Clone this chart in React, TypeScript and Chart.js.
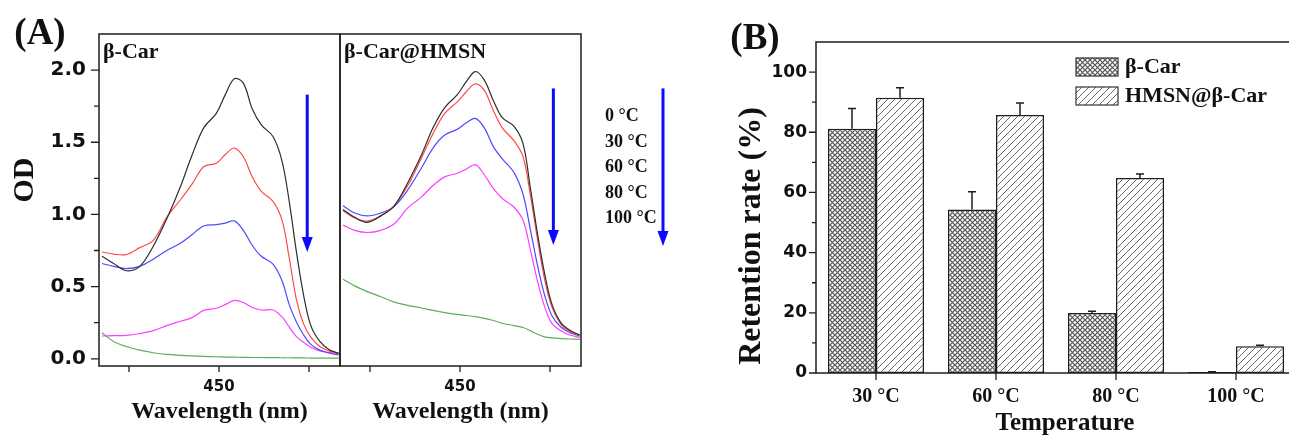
import React, { useEffect, useRef } from "react";
import { Chart, registerables } from "chart.js";

Chart.register(...registerables);

// ---------- Panel A data (UV-vis spectra) ----------
const wavelengths = [320, 333, 347, 362, 377, 392, 407, 420, 433, 447, 457, 467, 477, 487, 497, 510, 520, 528, 536, 544, 552, 562, 572, 583];

const freeOd0 = [0.71, 0.66, 0.61, 0.64, 0.78, 0.97, 1.19, 1.41, 1.6, 1.7, 1.83, 1.94, 1.91, 1.73, 1.62, 1.54, 1.37, 1.09, 0.74, 0.44, 0.23, 0.12, 0.065, 0.037];
const freeOd30 = [0.74, 0.725, 0.722, 0.77, 0.82, 0.98, 1.1, 1.21, 1.33, 1.355, 1.415, 1.46, 1.4, 1.26, 1.16, 1.09, 0.96, 0.7, 0.41, 0.24, 0.15, 0.085, 0.055, 0.037];
const freeOd60 = [0.66, 0.64, 0.625, 0.64, 0.69, 0.75, 0.8, 0.86, 0.92, 0.93, 0.94, 0.955, 0.89, 0.785, 0.71, 0.655, 0.54, 0.375, 0.255, 0.165, 0.1, 0.06, 0.04, 0.026];
const freeOd80 = [0.158, 0.16, 0.162, 0.175, 0.195, 0.23, 0.26, 0.285, 0.335, 0.35, 0.375, 0.405, 0.39, 0.355, 0.338, 0.338, 0.29, 0.22, 0.153, 0.115, 0.08, 0.055, 0.045, 0.037];
const freeOd100 = [0.18, 0.12, 0.085, 0.06, 0.042, 0.03, 0.024, 0.02, 0.017, 0.014, 0.012, 0.011, 0.01, 0.009, 0.009, 0.008, 0.007, 0.007, 0.006, 0.006, 0.005, 0.005, 0.005, 0.005];

const hmsnOd0 = [1.035, 0.98, 0.945, 0.99, 1.06, 1.22, 1.41, 1.6, 1.74, 1.83, 1.92, 1.99, 1.93, 1.79, 1.67, 1.61, 1.49, 1.19, 0.87, 0.59, 0.38, 0.25, 0.198, 0.165];
const hmsnOd30 = [1.028, 0.975, 0.954, 0.99, 1.06, 1.2, 1.39, 1.56, 1.7, 1.78, 1.85, 1.905, 1.86, 1.72, 1.6, 1.51, 1.4, 1.14, 0.83, 0.55, 0.36, 0.24, 0.19, 0.165];
const hmsnOd60 = [1.06, 1.01, 0.99, 1.01, 1.056, 1.17, 1.32, 1.46, 1.55, 1.59, 1.635, 1.665, 1.6, 1.47, 1.385, 1.29, 1.14, 0.9, 0.65, 0.44, 0.3, 0.22, 0.18, 0.158];
const hmsnOd80 = [0.926, 0.89, 0.875, 0.89, 0.935, 1.045, 1.12, 1.2, 1.26, 1.285, 1.315, 1.345, 1.275, 1.18, 1.11, 1.05, 0.96, 0.76, 0.54, 0.36, 0.245, 0.195, 0.165, 0.148];
const hmsnOd100 = [0.551, 0.505, 0.465, 0.43, 0.393, 0.37, 0.352, 0.335, 0.32, 0.307, 0.3, 0.292, 0.28, 0.265, 0.246, 0.23, 0.217, 0.195, 0.17, 0.152, 0.145, 0.14, 0.137, 0.135];

const spectrumLabels = ["0 °C", "30 °C", "60 °C", "80 °C", "100 °C"];
const spectrumColors = ["#2e2e2e", "#ff4a4a", "#4a4aff", "#ff3cff", "#5cae5c"];
const odTicks = [0, 0.5, 1, 1.5, 2];
const odMinorTicks = [0.25, 0.75, 1.25, 1.75];
const wlTicks = [350, 450, 550];
const wlLabelled = [450];

// ---------- Panel B data (retention) ----------
const temperatures = ["30 °C", "60 °C", "80 °C", "100 °C"];
const freeRetention = [81.2, 54.3, 19.9, 0.3];
const freeErr = [6.7, 5.9, 0.6, 0.1];
const hmsnRetention = [91.5, 85.7, 64.8, 8.9];
const hmsnErr = [3.3, 4.0, 1.3, 0.3];
const retentionTicks = [0, 20, 40, 60, 80, 100];
const retentionMinor = [10, 30, 50, 70, 90];

const SERIF = '"Liberation Serif", "Times New Roman", serif';
const SANS = '"DejaVu Sans", "Liberation Sans", sans-serif';
const INK = "#1e1e1e";

function drawArrow(ctx: CanvasRenderingContext2D, x: number, y1: number, y2: number) {
  ctx.save();
  ctx.strokeStyle = "#0a0aff";
  ctx.fillStyle = "#0a0aff";
  ctx.lineWidth = 3;
  const head = 15;
  const hw = 5.5;
  ctx.beginPath();
  ctx.moveTo(x, y1);
  ctx.lineTo(x, y2 - head + 2);
  ctx.stroke();
  ctx.beginPath();
  ctx.moveTo(x - hw, y2 - head);
  ctx.lineTo(x + hw, y2 - head);
  ctx.lineTo(x, y2);
  ctx.closePath();
  ctx.fill();
  ctx.restore();
}

type SpecProps = {
  series: number[][];
  panelLabel: string;
  showY: boolean;
  arrowX: number;
  arrowFrom: number;
  arrowTo: number;
  legend: boolean;
  left: number;
  width: number;
  padLeft: number;
  padRight: number;
};

function SpectrumPanel(p: SpecProps) {
  const ref = useRef<HTMLCanvasElement>(null);
  useEffect(() => {
    const canvas = ref.current!;
    const decor = {
      id: "specDecor",
      afterDraw(chart: any) {
        const { ctx, chartArea: a, scales } = chart;
        const xs = scales.x;
        const ys = scales.y;
        ctx.save();
        ctx.strokeStyle = INK;
        ctx.lineWidth = 1.5;
        ctx.strokeRect(a.left, a.top, a.right - a.left, a.bottom - a.top);
        ctx.lineWidth = 1.3;
        ctx.beginPath();
        if (p.showY) {
          odTicks.forEach((v) => {
            const py = ys.getPixelForValue(v);
            ctx.moveTo(a.left, py);
            ctx.lineTo(a.left - 8, py);
          });
          odMinorTicks.forEach((v) => {
            const py = ys.getPixelForValue(v);
            ctx.moveTo(a.left, py);
            ctx.lineTo(a.left - 5, py);
          });
        }
        wlTicks.forEach((v) => {
          const px = xs.getPixelForValue(v);
          ctx.moveTo(px, a.bottom);
          ctx.lineTo(px, a.bottom + 6);
        });
        ctx.stroke();

        ctx.fillStyle = "#111";
        ctx.textBaseline = "middle";
        ctx.textAlign = "left";
        ctx.font = `bold 22px ${SERIF}`;
        ctx.fillText(p.panelLabel, a.left + 4, a.top + 18);

        ctx.textAlign = "center";
        ctx.textBaseline = "alphabetic";
        ctx.font = `bold 24px ${SERIF}`;
        ctx.fillText("Wavelength (nm)", (a.left + a.right) / 2, 418);

        if (p.showY) {
          ctx.font = `bold 37px ${SERIF}`;
          ctx.textBaseline = "middle";
          ctx.fillText("(A)", 40, 34);
          ctx.save();
          ctx.translate(25, 180);
          ctx.rotate(-Math.PI / 2);
          ctx.font = `bold 30px ${SERIF}`;
          ctx.fillText("OD", 0, 0);
          ctx.restore();
        }

        const ax = xs.getPixelForValue(p.arrowX);
        const y1 = ys.getPixelForValue(p.arrowFrom);
        const y2 = ys.getPixelForValue(p.arrowTo);
        drawArrow(ctx, ax, y1, y2);

        if (p.legend) {
          ctx.font = `bold 18px ${SERIF}`;
          ctx.textAlign = "left";
          ctx.textBaseline = "middle";
          const ly = [116, 142, 167, 193, 218];
          spectrumLabels.forEach((t, i) => ctx.fillText(t, a.right + 24, ly[i]));
          drawArrow(ctx, a.right + 82, y1, y2 + 1);
        }
        ctx.restore();
      },
    };

    const chart = new Chart(canvas, {
      type: "line",
      data: {
        datasets: p.series.map((s, i) => ({
          label: spectrumLabels[i],
          data: wavelengths.map((w, j) => ({ x: w, y: s[j] })),
          borderColor: spectrumColors[i],
          borderWidth: 1.2,
          pointRadius: 0,
          tension: 0.35,
          fill: false,
        })),
      },
      options: {
        responsive: false,
        animation: false,
        devicePixelRatio: 1,
        layout: { padding: { top: 34, left: p.padLeft, right: p.padRight, bottom: 0 } },
        plugins: { legend: { display: false }, tooltip: { enabled: false } },
        scales: {
          x: {
            type: "linear",
            min: 316.7,
            max: 584.4,
            grid: { display: false, drawTicks: false },
            border: { display: false },
            afterBuildTicks: (s: any) => {
              s.ticks = wlTicks.map((v) => ({ value: v }));
            },
            afterFit: (s: any) => {
              s.height = 71;
            },
            ticks: {
              padding: 12,
              color: "#111",
              maxRotation: 0,
              autoSkip: false,
              font: { family: SANS, weight: "bold", size: 15 },
              callback: (v: any) => (wlLabelled.includes(Number(v)) ? String(v) : ""),
            },
          },
          y: {
            type: "linear",
            display: p.showY,
            min: -0.05,
            max: 2.25,
            grid: { display: false, drawTicks: false },
            border: { display: false },
            afterBuildTicks: (s: any) => {
              s.ticks = odTicks.map((v) => ({ value: v }));
            },
            afterFit: (s: any) => {
              s.width = p.showY ? 99 : 0;
            },
            ticks: {
              padding: 13,
              color: "#111",
              font: { family: SANS, weight: "bold", size: 20 },
              callback: (v: any) => Number(v).toFixed(1),
            },
          },
        },
      },
      plugins: [decor],
    } as any);
    return () => chart.destroy();
  }, []);
  return (
    <canvas
      ref={ref}
      width={p.width}
      height={437}
      style={{ position: "absolute", left: p.left, top: 0, width: p.width, height: 437 }}
    />
  );
}

function makeCross(): CanvasPattern {
  const c = document.createElement("canvas");
  c.width = 5;
  c.height = 5;
  const g = c.getContext("2d")!;
  g.fillStyle = "#ffffff";
  g.fillRect(0, 0, 5, 5);
  g.strokeStyle = "#555";
  g.lineWidth = 1.2;
  g.beginPath();
  g.moveTo(0, 0);
  g.lineTo(5, 5);
  g.moveTo(5, 0);
  g.lineTo(0, 5);
  g.stroke();
  return g.createPattern(c, "repeat")!;
}

function makeHatch(): CanvasPattern {
  const n = 7;
  const c = document.createElement("canvas");
  c.width = n;
  c.height = n;
  const g = c.getContext("2d")!;
  g.fillStyle = "#ffffff";
  g.fillRect(0, 0, n, n);
  g.strokeStyle = "#666";
  g.lineWidth = 1;
  g.beginPath();
  g.moveTo(-1, n + 1);
  g.lineTo(n + 1, -1);
  g.moveTo(-2, 2);
  g.lineTo(2, -2);
  g.moveTo(n - 2, n + 2);
  g.lineTo(n + 2, n - 2);
  g.stroke();
  return g.createPattern(c, "repeat")!;
}

function RetentionPanel() {
  const ref = useRef<HTMLCanvasElement>(null);
  useEffect(() => {
    const canvas = ref.current!;
    const cross = makeCross();
    const hatch = makeHatch();
    const values = [freeRetention, hmsnRetention];
    const errs = [freeErr, hmsnErr];
    const decor = {
      id: "barDecor",
      afterDraw(chart: any) {
        const { ctx, chartArea: a, scales } = chart;
        const xs = scales.x;
        const ys = scales.y;
        ctx.save();
        // error bars
        ctx.strokeStyle = INK;
        ctx.lineWidth = 1.5;
        ctx.beginPath();
        values.forEach((vals, di) => {
          const meta = chart.getDatasetMeta(di);
          meta.data.forEach((bar: any, i: number) => {
            const top = ys.getPixelForValue(vals[i] + errs[di][i]);
            ctx.moveTo(bar.x, bar.y);
            ctx.lineTo(bar.x, top);
            ctx.moveTo(bar.x - 4, top);
            ctx.lineTo(bar.x + 4, top);
          });
        });
        ctx.stroke();
        // frame
        ctx.lineWidth = 1.5;
        ctx.strokeRect(a.left, a.top, a.right - a.left, a.bottom - a.top);
        // ticks
        ctx.lineWidth = 1.3;
        ctx.beginPath();
        retentionTicks.forEach((v) => {
          const py = ys.getPixelForValue(v);
          ctx.moveTo(a.left, py);
          ctx.lineTo(a.left - 7, py);
        });
        retentionMinor.forEach((v) => {
          const py = ys.getPixelForValue(v);
          ctx.moveTo(a.left, py);
          ctx.lineTo(a.left - 4, py);
        });
        temperatures.forEach((_, i) => {
          const px = xs.getPixelForValue(i);
          ctx.moveTo(px, a.bottom);
          ctx.lineTo(px, a.bottom + 7);
        });
        ctx.stroke();

        // legend
        const boxes = [
          { y: 58, fill: cross, text: "β-Car" },
          { y: 87, fill: hatch, text: "HMSN@β-Car" },
        ];
        ctx.font = `bold 22px ${SERIF}`;
        ctx.textBaseline = "middle";
        ctx.textAlign = "left";
        boxes.forEach((b) => {
          ctx.fillStyle = b.fill;
          ctx.fillRect(376, b.y, 42, 18);
          ctx.strokeStyle = "#333";
          ctx.lineWidth = 1.2;
          ctx.strokeRect(376, b.y, 42, 18);
          ctx.fillStyle = "#111";
          ctx.fillText(b.text, 425, b.y + 9);
        });

        // titles
        ctx.fillStyle = "#111";
        ctx.textAlign = "center";
        ctx.font = `bold 37px ${SERIF}`;
        ctx.fillText("(B)", 55, 39);
        ctx.font = `bold 25px ${SERIF}`;
        ctx.textBaseline = "alphabetic";
        ctx.fillText("Temperature", 365, 430);
        ctx.save();
        ctx.translate(52, 236);
        ctx.rotate(-Math.PI / 2);
        ctx.textBaseline = "middle";
        ctx.font = `bold 32px ${SERIF}`;
        ctx.fillText("Retention rate (%)", 0, 0);
        ctx.restore();
        ctx.restore();
      },
    };

    const chart = new Chart(canvas, {
      type: "bar",
      data: {
        labels: temperatures,
        datasets: [
          {
            label: "β-Car",
            data: freeRetention,
            backgroundColor: cross,
            borderColor: INK,
            borderWidth: 1.5,
            borderSkipped: false,
            categoryPercentage: 0.8,
            barPercentage: 1,
          },
          {
            label: "HMSN@β-Car",
            data: hmsnRetention,
            backgroundColor: hatch,
            borderColor: INK,
            borderWidth: 1.5,
            borderSkipped: false,
            categoryPercentage: 0.8,
            barPercentage: 1,
          },
        ],
      },
      options: {
        responsive: false,
        animation: false,
        devicePixelRatio: 1,
        layout: { padding: { top: 42, left: 0, right: 0, bottom: 0 } },
        plugins: { legend: { display: false }, tooltip: { enabled: false } },
        scales: {
          x: {
            type: "category",
            offset: true,
            grid: { display: false, drawTicks: false },
            border: { display: false },
            afterFit: (s: any) => {
              s.height = 64;
            },
            ticks: {
              padding: 12,
              color: "#111",
              maxRotation: 0,
              font: { family: SERIF, weight: "bold", size: 20 },
            },
          },
          y: {
            type: "linear",
            min: 0,
            max: 110,
            grid: { display: false, drawTicks: false },
            border: { display: false },
            afterBuildTicks: (s: any) => {
              s.ticks = retentionTicks.map((v) => ({ value: v }));
            },
            afterFit: (s: any) => {
              s.width = 116;
            },
            ticks: {
              padding: 9,
              color: "#111",
              font: { family: SANS, weight: "bold", size: 17 },
            },
          },
        },
      },
      plugins: [decor],
    } as any);
    return () => chart.destroy();
  }, []);
  return (
    <canvas
      ref={ref}
      width={596}
      height={437}
      style={{ position: "absolute", left: 700, top: 0, width: 596, height: 437 }}
    />
  );
}

export default function App() {
  return (
    <div
      style={{
        position: "absolute",
        left: 0,
        top: 0,
        width: 1289,
        height: 437,
        overflow: "hidden",
        background: "#ffffff",
      }}
    >
      <SpectrumPanel
        series={[freeOd0, freeOd30, freeOd60, freeOd80, freeOd100]}
        panelLabel="β-Car"
        showY={true}
        arrowX={548}
        arrowFrom={1.83}
        arrowTo={0.74}
        legend={false}
        left={0}
        width={342}
        padLeft={0}
        padRight={2}
      />
      <SpectrumPanel
        series={[hmsnOd0, hmsnOd30, hmsnOd60, hmsnOd80, hmsnOd100]}
        panelLabel="β-Car@HMSN"
        showY={false}
        arrowX={553.7}
        arrowFrom={1.873}
        arrowTo={0.789}
        legend={true}
        left={330}
        width={370}
        padLeft={10}
        padRight={119}
      />
      <RetentionPanel />
    </div>
  );
}
